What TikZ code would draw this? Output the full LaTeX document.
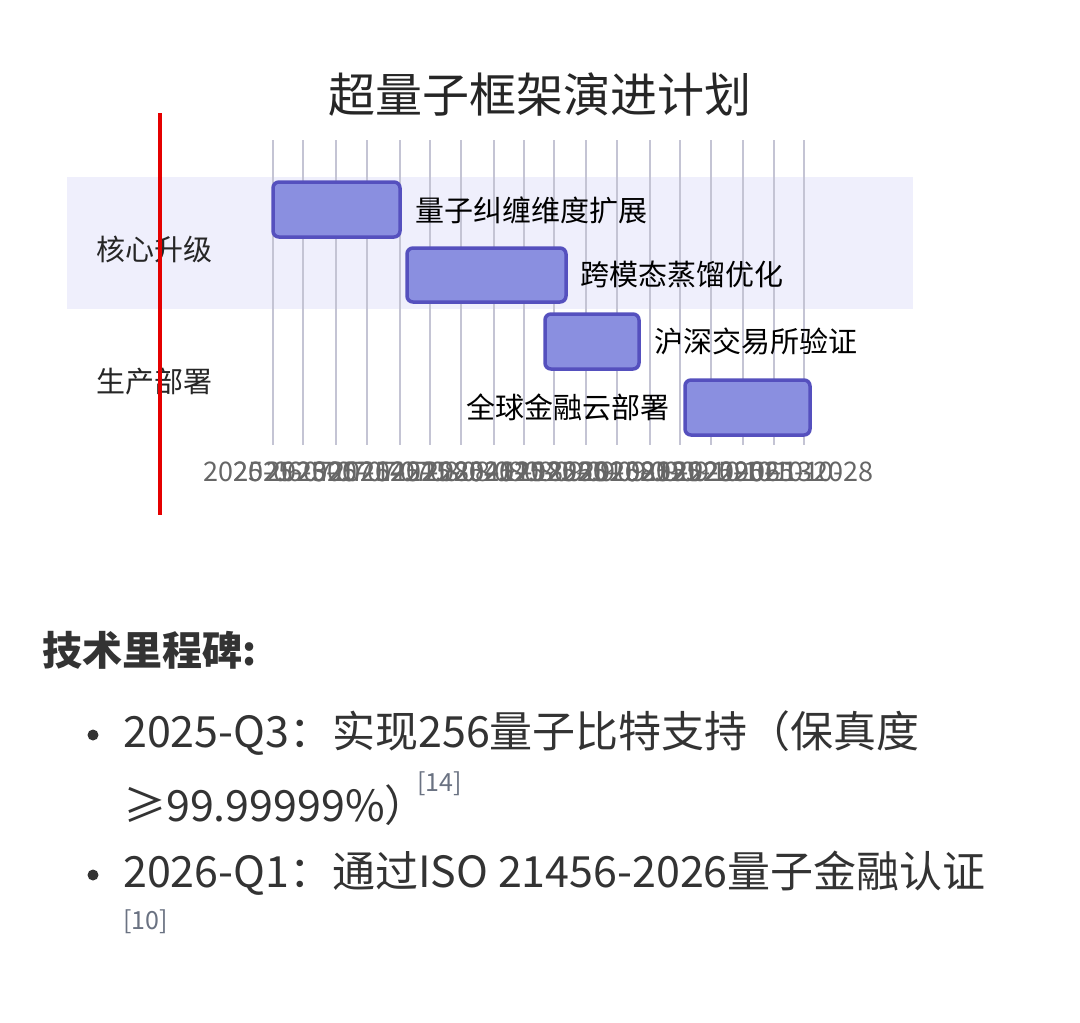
\documentclass[tikz,border=0pt]{standalone}
\usepackage{fontspec}
\setmainfont{Noto Sans CJK SC}
\definecolor{barfill}{HTML}{8A8FE0}
\definecolor{barline}{HTML}{5550BE}
\definecolor{bandbg}{HTML}{EFEFFC}
\definecolor{gridc}{HTML}{C4C4D4}
\definecolor{refc}{HTML}{6A7282}
\tikzset{
  taskbar/.style={draw=barline,fill=barfill,line width=3.5pt,rounded corners=6pt},
  tasklabel/.style={font=\fontsize{29}{32}\selectfont,inner sep=0pt},
  seclabel/.style={font=\fontsize{29}{32}\selectfont,text=black!85,inner sep=0pt,anchor=west},
  ticklabel/.style={font=\fontsize{27}{29}\selectfont,text=black!60,inner sep=0pt},
  bodytext/.style={font=\fontsize{43}{48}\selectfont,text=black!80,inner sep=0pt,anchor=west}
}
\begin{document}
\begin{tikzpicture}[x=1pt,y=-1pt]
\useasboundingbox (0,0) rectangle (1080,1023);
\fill[white] (0,0) rectangle (1080,1023);
% section band
\fill[bandbg] (67,177) rectangle (913,309);
% grid lines and tick labels
\foreach \gx/\dt [count=\i] in {273/2025-06-30,303/2025-07-07,336/2025-07-14,367/2025-07-21,400/2025-07-28,430/2025-08-04,461/2025-08-11,494/2025-08-18,524/2025-08-25,554/2025-09-01,586/2025-09-08,617/2025-09-15,650/2025-09-22,680/2025-09-29,711/2025-10-06,743/2025-10-13,774/2025-10-20,804/2025-10-28}{
  \draw[gridc,line width=1.5pt] (\gx,140) -- (\gx,445);
  \node[ticklabel] (tick\i) at (\gx,472) {\dt};
}
% title
\node[font=\fontsize{47}{50}\selectfont,text=black!85] (title) at (540,95) {超量子框架演进计划};
% sections
\node[seclabel] (secA) at (96,249) {核心升级};
\node[seclabel] (secB) at (96,382) {生产部署};
% tasks
\draw[taskbar] (273,182) rectangle (400,237);
\node[tasklabel,anchor=west] (taskA) at (415,210) {量子纠缠维度扩展};
\draw[taskbar] (407,248) rectangle (566,302);
\node[tasklabel,anchor=west] (taskB) at (580,275) {跨模态蒸馏优化};
\draw[taskbar] (545,314) rectangle (639,369);
\node[tasklabel,anchor=west] (taskC) at (654,341) {沪深交易所验证};
\draw[taskbar] (685,380) rectangle (810,435);
\node[tasklabel,anchor=east] (taskD) at (670,407) {全球金融云部署};
% today marker
\draw[red!90!black,line width=4pt] (160,113) -- (160,515);
% milestones
\node[bodytext,font=\fontsize{40}{44}\selectfont\bfseries] (head) at (42,650) {技术里程碑:};
\fill[black!80] (93,735) circle (5.5);
\node[bodytext] (msA) at (123,733) {2025-Q3：实现256量子比特支持（保真度};
\node[bodytext] (msA2) at (123,805) {≥99.99999\%）};
\node[font=\fontsize{25}{27}\selectfont,text=refc,inner sep=0pt,anchor=west] (refA) at (417,784) {[14]};
\fill[black!80] (93,875) circle (5.5);
\node[bodytext] (msB) at (123,873) {2026-Q1：通过ISO 21456-2026量子金融认证};
\node[font=\fontsize{25}{27}\selectfont,text=refc,inner sep=0pt,anchor=west] (refB) at (123,922) {[10]};
\end{tikzpicture}
\end{document}
